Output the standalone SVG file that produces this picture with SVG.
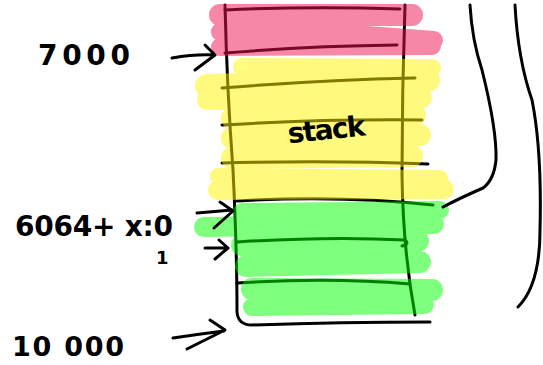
<svg xmlns="http://www.w3.org/2000/svg" width="543" height="365" viewBox="0 0 543 365">
<style>
.ink{fill:none;stroke:#000;stroke-width:3;stroke-linecap:round;stroke-linejoin:round}
.hl{fill:none;stroke-linecap:round;stroke-linejoin:round}
.txt{font-family:"DejaVu Sans","Liberation Sans",sans-serif;font-weight:bold;fill:#000}
</style>
<rect width="543" height="365" fill="#fff"/>
<g id="stack-outline">
<path class="ink" d="M225,5 Q227,90 233,170 Q237,250 237,312 Q238,325 252,325 Q340,322 430,322"/>
<path class="ink" d="M405,5 Q402,90 402,175 Q403,250 415,315"/>
<path class="ink" d="M225,10 Q310,6 400,9"/>
<path class="ink" d="M225,53 Q310,46 397,45"/>
<path class="ink" d="M222,88 Q320,80 415,78"/>
<path class="ink" d="M222,125 Q320,119 422,120"/>
<path class="ink" d="M222,163 Q330,160 428,164"/>
<path class="ink" d="M237,201 Q340,195 433,205"/>
<path class="ink" d="M237,242 Q330,236 405,240 Q410,244 402,246"/>
<path class="ink" d="M237,283 Q330,277 410,284"/>
</g>
<g id="highlights" opacity="0.5">
<g stroke="#ee1150" class="hl">
<path d="M220,15 L412,15" stroke-width="22"/>
<path d="M220,32 L300,30 L434,40" stroke-width="18"/>
<path d="M220,47 L432,46" stroke-width="18"/>
</g>
<g stroke="#fff500" class="hl">
<path d="M242,67 L432,68" stroke-width="18"/>
<path d="M207,86 L428,80" stroke-width="24"/>
<path d="M207,100 L422,98" stroke-width="20"/>
<path d="M232,118 L415,115" stroke-width="22"/>
<path d="M232,138 L420,135" stroke-width="22"/>
<path d="M232,158 L412,156" stroke-width="22"/>
<path d="M218,176 L440,178" stroke-width="16"/>
<path d="M218,190 L444,189" stroke-width="20"/>
</g>
<g stroke="#00ff00" class="hl">
<path d="M242,212 L440,210" stroke-width="18"/>
<path d="M204,227 L434,224" stroke-width="20"/>
<path d="M242,245 L418,241" stroke-width="22"/>
<path d="M246,266 L420,262" stroke-width="22"/>
<path d="M252,289 L432,290" stroke-width="22"/>
<path d="M252,307 L425,305" stroke-width="18"/>
</g>
<rect x="237" y="60" width="11" height="10" fill="#ffff00"/>
</g>
<g id="braces">
<path class="ink" d="M470,5 Q472,40 482,70 Q497,130 496,160 Q494,180 483,188 Q460,198 443,207"/>
<path class="ink" d="M515,5 Q518,60 532,100 Q542,150 540,230 Q540,285 518,307"/>
</g>
<g id="label-stack"><text class="txt" x="287" y="140" font-size="28" textLength="78" transform="rotate(-6 320 125)">stack</text></g>
<g id="label-7000"><text class="txt" x="38" y="65" font-size="28" textLength="92">7000</text></g>
<g id="label-6064"><text class="txt" x="15" y="236" font-size="28" textLength="158">6064+ x:0</text></g>
<g id="label-1"><text class="txt" x="156" y="264" font-size="18">1</text></g>
<g id="label-10000"><text class="txt" x="12" y="356" font-size="27" textLength="112">10 000</text></g>
<g id="connectors">
<path class="ink" d="M172,58 Q195,54 215,55 M205,45 L215,55 L195,70"/>
<path class="ink" stroke-width="4" d="M197,213 L232,210 M220,202 L233,211 L214,228"/>
<path class="ink" d="M205,248 L227,248 M219,240 L228,248 L215,259"/>
<path class="ink" d="M173,338 Q200,334 224,331 M210,320 L225,330 L187,349"/>
</g>
</svg>
